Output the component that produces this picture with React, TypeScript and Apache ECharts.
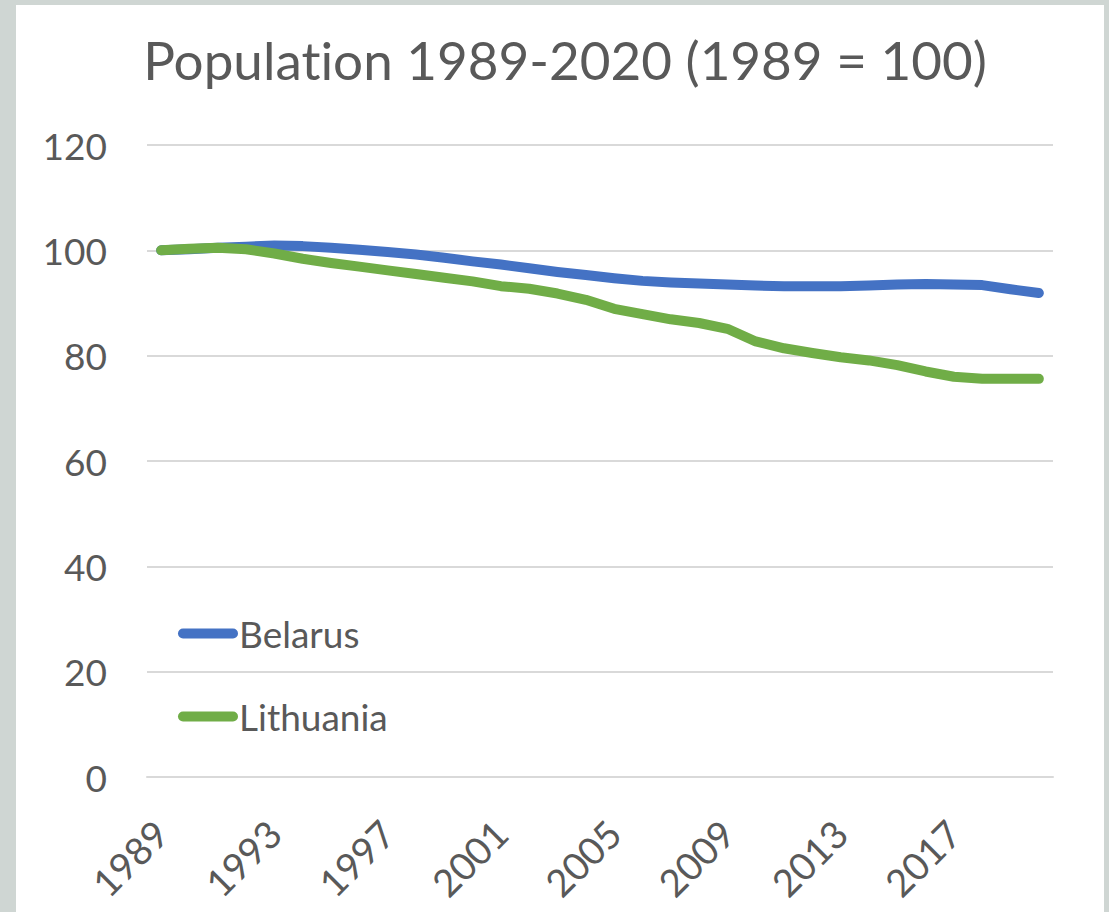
import React, { useEffect, useRef } from "react";
import * as echarts from "echarts";

const years: string[] = [];
for (let y = 1989; y <= 2020; y++) years.push(String(y));

const belarus = [100, 100.2, 100.5, 100.7, 100.9, 100.8, 100.5, 100.1, 99.7, 99.2, 98.6, 97.9, 97.3, 96.6, 95.9, 95.3, 94.7, 94.2, 93.9, 93.7, 93.5, 93.3, 93.2, 93.2, 93.2, 93.3, 93.5, 93.6, 93.5, 93.4, 92.6, 91.9];
const lithuania = [100, 100.3, 100.5, 100.2, 99.4, 98.4, 97.6, 96.9, 96.2, 95.5, 94.8, 94.1, 93.2, 92.7, 91.8, 90.6, 88.9, 87.9, 86.9, 86.2, 85.1, 82.7, 81.4, 80.5, 79.7, 79.1, 78.2, 77.0, 76.0, 75.6, 75.6, 75.6];

const yTicks = { min: 0, max: 120, interval: 20 };
const titleText = "Population 1989-2020 (1989 = 100)";
const seriesNames = ["Belarus", "Lithuania"];
const seriesColors = ["#4472C4", "#70AD47"];

const FONT = "Lato";
const TEXT = "#595959";
const capsule = "path://M5,0 L55,0 A5,5 0 0 1 55,10 L5,10 A5,5 0 0 1 5,0 Z";

export default function App() {
  const ref = useRef<HTMLDivElement>(null);
  useEffect(() => {
    if (!ref.current) return;
    const chart = echarts.init(ref.current, undefined, { renderer: "svg" });
    chart.setOption({
      animation: false,
      backgroundColor: "#cfd6d3",
      graphic: [
        { type: "rect", z: -10, shape: { x: 16, y: 5, width: 1088, height: 910 }, style: { fill: "#ffffff" } },
      ],
      title: {
        text: titleText,
        left: 560,
        textAlign: "center",
        top: 28,
        textStyle: { fontFamily: FONT, fontSize: 53, fontWeight: "normal", color: TEXT },
      },
      legend: {
        orient: "vertical",
        left: 173,
        top: 610,
        itemGap: 46,
        itemWidth: 60,
        itemHeight: 10,
        icon: capsule,
        itemStyle: { borderWidth: 0 },
        textStyle: { fontFamily: FONT, fontSize: 37, color: TEXT, padding: [0, 0, 0, -4] },
        data: seriesNames,
      },
      grid: { left: 147, right: 56, top: 145, bottom: 135, containLabel: false },
      xAxis: {
        type: "category",
        data: years,
        boundaryGap: true,
        axisLine: { show: true, lineStyle: { color: "#d9d9d9", width: 2 } },
        axisTick: { show: false },
        axisLabel: {
          interval: 3,
          rotate: 45,
          margin: 50,
          fontFamily: FONT,
          fontSize: 38,
          color: TEXT,
        },
      },
      yAxis: {
        type: "value",
        min: yTicks.min,
        max: yTicks.max,
        interval: yTicks.interval,
        axisLine: { show: false },
        axisTick: { show: false },
        splitLine: { lineStyle: { color: "#d9d9d9", width: 2 } },
        axisLabel: { fontFamily: FONT, fontSize: 37, color: TEXT, margin: 40 },
      },
      series: [
        {
          name: seriesNames[0],
          type: "line",
          data: belarus,
          symbol: "none",
          color: seriesColors[0],
          lineStyle: { width: 10, cap: "round", join: "round", color: seriesColors[0] },
        },
        {
          name: seriesNames[1],
          type: "line",
          data: lithuania,
          symbol: "none",
          color: seriesColors[1],
          lineStyle: { width: 10, cap: "round", join: "round", color: seriesColors[1] },
        },
      ],
    });
    return () => chart.dispose();
  }, []);
  return (
    <>
      <style>{"text{font-variant-ligatures:none;font-feature-settings:'liga' 0,'clig' 0;}"}</style>
      <div
        ref={ref}
        style={{ position: "fixed", left: 0, top: 0, width: 1109, height: 912 }}
      />
    </>
  );
}
